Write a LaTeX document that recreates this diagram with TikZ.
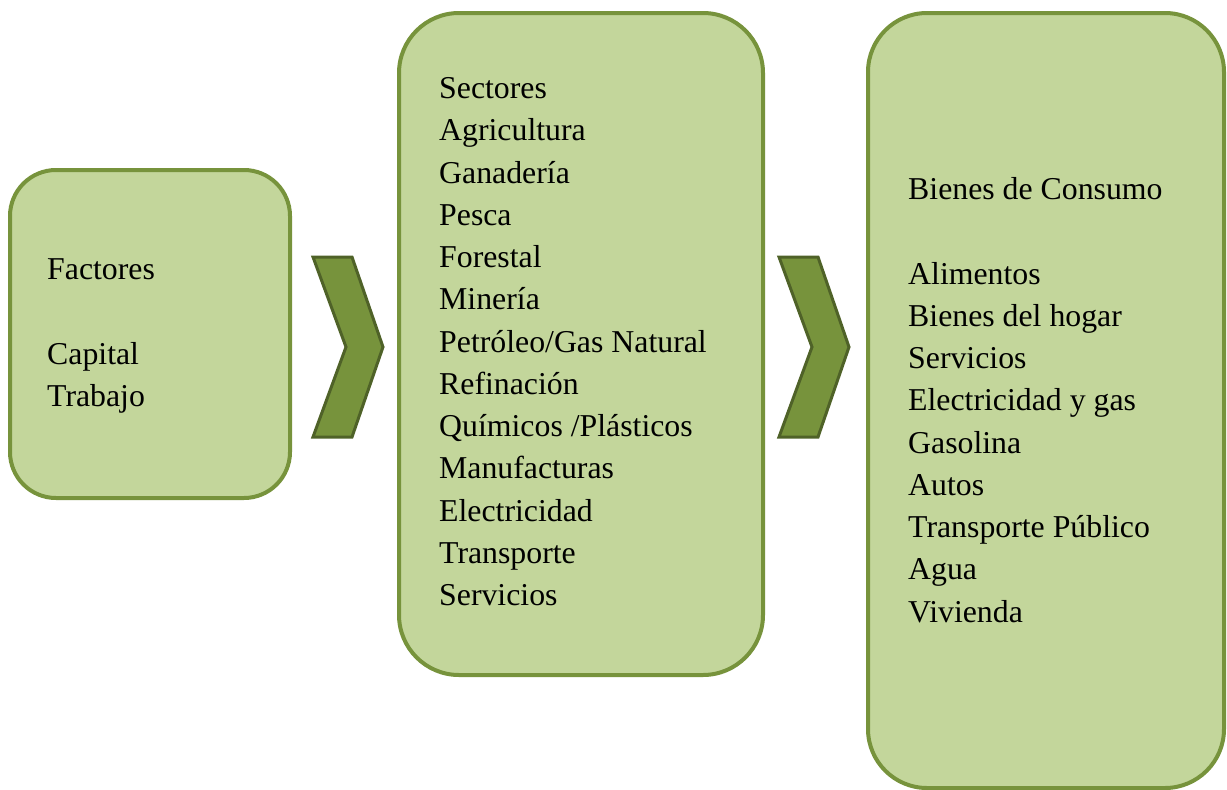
\documentclass[tikz,border=0pt]{standalone}
\usepackage{fontspec}
\setmainfont{Liberation Serif}
\definecolor{boxfill}{HTML}{C3D69B}
\definecolor{boxline}{HTML}{77933C}
\definecolor{chevfill}{HTML}{77933C}
\definecolor{chevline}{HTML}{4F6228}
\begin{document}
\begin{tikzpicture}[x=1pt,y=-1pt,
  panel/.style={draw=boxline,fill=boxfill,line width=4pt},
  chev/.style={draw=chevline,fill=chevfill,line width=3pt,line join=miter},
  lbl/.style={anchor=base west,inner sep=0pt,font=\fontsize{31.8}{42.25}\selectfont}]
\useasboundingbox (0,0) rectangle (1227,790);
% panels
\draw[panel,rounded corners=46pt] (10,170) rectangle (290,498);
\draw[panel,rounded corners=60pt] (399,13) rectangle (763,675);
\draw[panel,rounded corners=59pt] (868,13) rectangle (1224,788);
% chevrons
\draw[chev] (313,257) -- (352,257) -- (383,347) -- (352,437) -- (313,437) -- (346,347) -- cycle;
\draw[chev] (779,257) -- (818,257) -- (849,347) -- (818,437) -- (779,437) -- (812,347) -- cycle;
% texts
\node[lbl] (f1) at (47,279.5) {Factores};
\node[lbl] (f2) at (47,364) {Capital};
\node[lbl] (f3) at (47,406.25) {Trabajo};
\foreach \t [count=\i] in {Sectores,Agricultura,Ganadería,Pesca,Forestal,Minería,Petróleo/Gas Natural,Refinación,Químicos /Plásticos,Manufacturas,Electricidad,Transporte,Servicios}
  \node[lbl] (s\i) at (439,{98.5+42.25*(\i-1)}) {\t};
\node[lbl] (b0) at (908,199.5) {Bienes de Consumo};
\foreach \t [count=\i] in {Alimentos,Bienes del hogar,Servicios,Electricidad y gas,Gasolina,Autos,Transporte Público,Agua,Vivienda}
  \node[lbl] (b\i) at (908,{284+42.25*(\i-1)}) {\t};
\end{tikzpicture}
\end{document}
